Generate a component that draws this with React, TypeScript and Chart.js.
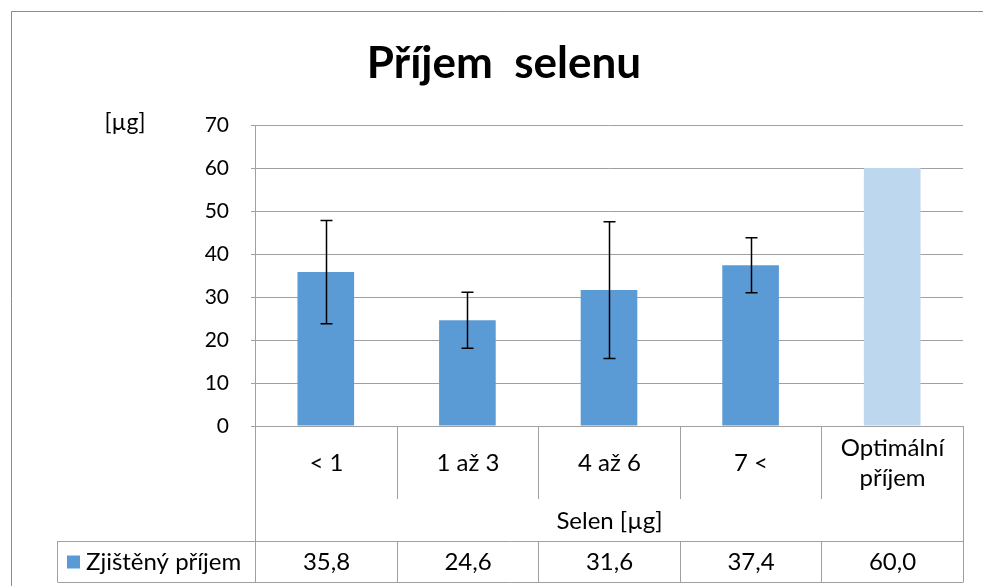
import React, { useEffect, useRef } from "react";
import { Chart, registerables } from "chart.js";
Chart.register(...registerables);

const chartTitle = "Příjem  selenu";
const yUnitLabel = "[µg]";
const xTitle = "Selen [µg]";
const seriesName = "Zjištěný příjem";
const categories: string[][] = [["< 1"], ["1 až 3"], ["4 až 6"], ["7 <"], ["Optimální", "příjem"]];
const values = [35.8, 24.6, 31.6, 37.4, 60.0];
const errors: (number | null)[] = [12.0, 6.5, 15.9, 6.4, null];
const tableLabels = ["35,8", "24,6", "31,6", "37,4", "60,0"];
const yMin = 0;
const yMax = 70;
const yStep = 10;
const barColors = ["#5B9BD5", "#5B9BD5", "#5B9BD5", "#5B9BD5", "#BDD7EE"];

const FONT = "Lato, 'Open Sans', sans-serif";
const LINE = "#a0a0a0";

export default function App() {
  const ref = useRef<HTMLCanvasElement | null>(null);

  useEffect(() => {
    document.body.style.margin = "0";
    const canvas = ref.current;
    if (!canvas) return;

    const decor = {
      id: "decor",
      beforeDraw(chart: any) {
        const ctx = chart.ctx;
        ctx.save();
        ctx.fillStyle = "#ffffff";
        ctx.fillRect(0, 0, chart.width, chart.height);
        ctx.strokeStyle = "#8c8c8c";
        ctx.lineWidth = 1;
        ctx.beginPath();
        ctx.moveTo(11.5, chart.height);
        ctx.lineTo(11.5, 11.5);
        ctx.lineTo(chart.width, 11.5);
        ctx.stroke();
        // title
        ctx.fillStyle = "#000";
        ctx.font = `bold 44px ${FONT}`;
        ctx.textAlign = "center";
        ctx.textBaseline = "alphabetic";
        ctx.fillText(chartTitle, 504, 78);
        // unit
        ctx.font = `23px ${FONT}`;
        ctx.textBaseline = "middle";
        ctx.fillText(yUnitLabel, 125, 123);
        ctx.restore();
      },
      afterDatasetsDraw(chart: any) {
        const ctx = chart.ctx;
        const meta = chart.getDatasetMeta(0);
        const ys = chart.scales.y;
        ctx.save();
        ctx.strokeStyle = "#000";
        ctx.lineWidth = 1.5;
        errors.forEach((e, i) => {
          if (e == null) return;
          const x = Math.round(meta.data[i].x) + 0.5;
          const yt = ys.getPixelForValue(values[i] + e);
          const yb = ys.getPixelForValue(values[i] - e);
          ctx.beginPath();
          ctx.moveTo(x, yt);
          ctx.lineTo(x, yb);
          ctx.moveTo(x - 6, yt);
          ctx.lineTo(x + 6, yt);
          ctx.moveTo(x - 6, yb);
          ctx.lineTo(x + 6, yb);
          ctx.stroke();
        });
        ctx.restore();
      },
      afterDraw(chart: any) {
        const ctx = chart.ctx;
        const xs = chart.scales.x;
        const area = chart.chartArea;
        const y0 = area.bottom;
        const y1 = y0 + 73;
        const y2 = y0 + 115;
        const y3 = y0 + 156;
        const n = categories.length;
        const bounds: number[] = [];
        for (let i = 0; i <= n; i++) bounds.push(Math.round(xs.getPixelForValue(i - 0.5)) + 0.5);
        ctx.save();
        ctx.strokeStyle = LINE;
        ctx.lineWidth = 1;
        ctx.beginPath();
        ctx.moveTo(bounds[0], y0);
        ctx.lineTo(bounds[0], y3);
        ctx.moveTo(bounds[n], y0);
        ctx.lineTo(bounds[n], y3);
        for (let i = 1; i < n; i++) {
          ctx.moveTo(bounds[i], y0);
          ctx.lineTo(bounds[i], y1);
          ctx.moveTo(bounds[i], y2);
          ctx.lineTo(bounds[i], y3);
        }
        const legendLeft = 57.5;
        ctx.moveTo(legendLeft, y2 + 0.5);
        ctx.lineTo(bounds[n], y2 + 0.5);
        ctx.moveTo(legendLeft, y3 + 0.5);
        ctx.lineTo(bounds[n], y3 + 0.5);
        ctx.moveTo(legendLeft, y2);
        ctx.lineTo(legendLeft, y3);
        ctx.stroke();

        ctx.fillStyle = "#000";
        ctx.font = `24px ${FONT}`;
        ctx.textAlign = "center";
        ctx.textBaseline = "middle";
        categories.forEach((lines, i) => {
          const cx = (bounds[i] + bounds[i + 1]) / 2;
          const lh = 30;
          const start = y0 + 37 - ((lines.length - 1) * lh) / 2;
          lines.forEach((t, k) => ctx.fillText(t, cx, start + k * lh));
        });
        ctx.fillText(xTitle, (bounds[0] + bounds[n]) / 2, y0 + 95);
        tableLabels.forEach((t, i) => {
          const cx = (bounds[i] + bounds[i + 1]) / 2;
          ctx.fillText(t, cx, (y2 + y3) / 2 + 1);
        });
        // legend
        ctx.fillStyle = barColors[0];
        ctx.fillRect(67, (y2 + y3) / 2 - 6, 13, 13);
        ctx.fillStyle = "#000";
        ctx.textAlign = "left";
        ctx.fillText(seriesName, 86, (y2 + y3) / 2 + 1);
        ctx.restore();
      },
    };

    const chart = new Chart(canvas, {
      type: "bar",
      data: {
        labels: categories.map((c) => c.join(" ")),
        datasets: [
          {
            label: seriesName,
            data: values,
            backgroundColor: barColors,
            borderWidth: 0,
            barPercentage: 0.4,
            categoryPercentage: 1.0,
          },
        ],
      },
      options: {
        animation: false,
        responsive: true,
        maintainAspectRatio: false,
        layout: { padding: { top: 125, right: 20, left: 0, bottom: 0 } },
        plugins: {
          legend: { display: false },
          title: { display: false },
          tooltip: { enabled: false },
        },
        scales: {
          x: {
            ticks: { display: false },
            grid: { display: false },
            border: { display: true, color: LINE, width: 1 },
            afterFit: (s: any) => {
              s.height = 160;
            },
          },
          y: {
            min: yMin,
            max: yMax,
            ticks: {
              stepSize: yStep,
              padding: 22,
              color: "#000",
              font: { family: FONT, size: 21 },
            },
            grid: { color: LINE, lineWidth: 1, tickLength: 4, drawTicks: true },
            border: { display: true, color: LINE, width: 1 },
            afterFit: (s: any) => {
              s.width = 255;
            },
          },
        },
      },
      plugins: [decor],
    });
    return () => chart.destroy();
  }, []);

  return (
    <div style={{ width: 983, height: 586, position: "relative" }}>
      <canvas ref={ref} />
    </div>
  );
}
